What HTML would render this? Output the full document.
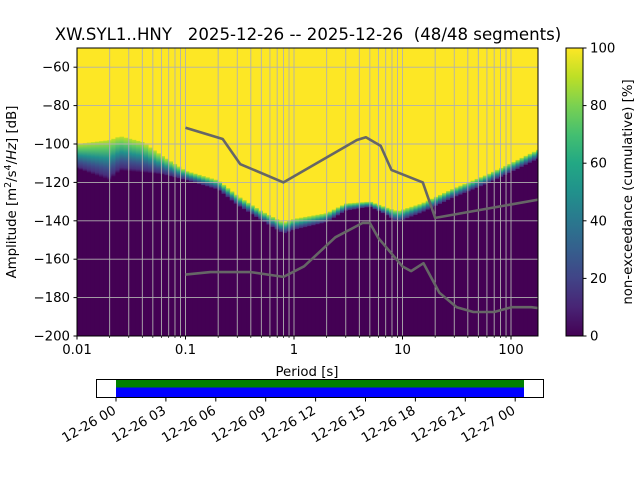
<!DOCTYPE html>
<html><head><meta charset="utf-8"><style>
body{margin:0;background:#fff;}
svg{display:block;font-family:"DejaVu Sans","Liberation Sans",sans-serif;}
</style></head><body>
<svg id="c" width="640" height="480" viewBox="0 0 640 480">
<defs>
<linearGradient id="vir" x1="0" y1="1" x2="0" y2="0">
<stop offset="0" stop-color="#440154"/><stop offset="0.1" stop-color="#482475"/><stop offset="0.2" stop-color="#414487"/><stop offset="0.3" stop-color="#355f8d"/><stop offset="0.4" stop-color="#2a788e"/><stop offset="0.5" stop-color="#21918c"/><stop offset="0.6" stop-color="#22a884"/><stop offset="0.7" stop-color="#44bf70"/><stop offset="0.8" stop-color="#7ad151"/><stop offset="0.9" stop-color="#bddf26"/><stop offset="1" stop-color="#fde725"/>
</linearGradient>
<linearGradient id="col" x1="0" y1="0" x2="0" y2="1">
<stop offset="0" stop-color="#bddf26"/><stop offset="0.2" stop-color="#5ec962"/><stop offset="0.45" stop-color="#21918c"/><stop offset="0.7" stop-color="#3b528b"/><stop offset="0.9" stop-color="#472d7b"/><stop offset="1" stop-color="#440154"/>
</linearGradient>
<clipPath id="pc"><rect x="77" y="48" width="461" height="288"/></clipPath>
</defs>
<text x="308" y="40" font-size="16.6" text-anchor="middle" xml:space="preserve">XW.SYL1..HNY   2025-12-26 -- 2025-12-26  (48/48 segments)</text>
<g id="plot" clip-path="url(#pc)"></g>
<g id="grid"></g>
<g id="curves" clip-path="url(#pc)"></g>
<rect x="77" y="48" width="461" height="288" fill="none" stroke="#000" stroke-width="1"/>
<g id="axes" font-size="13.3"></g>
<text x="307" y="376" font-size="13.3" text-anchor="middle">Period [s]</text>
<text transform="translate(16,192) rotate(-90)" font-size="13.3" text-anchor="middle">Amplitude [m<tspan font-size="9.5" dy="-5">2</tspan><tspan dy="5">/s</tspan><tspan font-size="9.5" dy="-5">4</tspan><tspan dy="5">/</tspan><tspan font-style="italic">Hz</tspan>] [dB]</text>
<rect x="566" y="48" width="17" height="288" fill="url(#vir)" stroke="#000" stroke-width="1"/>
<g id="cbar" font-size="13.3"></g>
<text transform="translate(632,192) rotate(-90)" font-size="13.3" text-anchor="middle">non-exceedance (cumulative) [%]</text>
<g id="tbar"></g>
</svg>
<script>
const NS="http://www.w3.org/2000/svg";
// PPSD transition edges
const periods=[0.01,0.02,0.025,0.04,0.06,0.1,0.2,0.3,0.5,0.8,1,2,3,5,7,9,15,30,60,100,177];
const yellowEdgeDb=[-100,-98,-96,-99,-106,-114,-119,-127,-135,-141,-139,-136,-131,-130,-133,-135,-131,-123,-116,-110,-103];
const purpleEdgeDb=[-113,-119,-114,-115,-116,-119,-124,-132,-140,-147,-145,-141,-135,-133,-137,-141,-136,-128,-121,-115,-108];
const nhnmPeriods=[0.1,0.22,0.32,0.8,3.8,4.6,6.3,7.9,15.4,20,354.8];
const nhnmDb=[-91.5,-97.4,-110.5,-120,-97.9,-96.5,-101,-113.5,-120,-138.5,-126];
const nlnmPeriods=[0.1,0.17,0.4,0.8,1.24,2.4,4.3,5,6,10,12,15.6,21.9,31.6,45,70,101,154,328];
const nlnmDb=[-168,-166.7,-166.7,-169.2,-163.7,-148.6,-141.1,-141.1,-149,-163.8,-166.2,-162.1,-177.5,-185,-187.5,-187.5,-185,-185,-187.5];
const yTicks=[-60,-80,-100,-120,-140,-160,-180,-200];
const xTickLabels=["0.01","0.1","1","10","100"];
const cbTicks=[0,20,40,60,80,100];
const timeLabels=["12-26 00","12-26 03","12-26 06","12-26 09","12-26 12","12-26 15","12-26 18","12-26 21","12-27 00"];
const X0=77,DEC=108.5,Y0=336,DBPX=1.92;
const xs=p=>X0+DEC*(Math.log10(p)+2);
const ys=d=>Y0-(d+200)*DBPX;
function interp(p,P,V){const l=Math.log10(p);for(let i=0;i<P.length-1;i++){const a=Math.log10(P[i]),b=Math.log10(P[i+1]);if(l>=a&&l<=b){return V[i]+(V[i+1]-V[i])*(l-a)/(b-a);}}return l<Math.log10(P[0])?V[0]:V[V.length-1];}
function mk(tag,attrs,parent){const e=document.createElementNS(NS,tag);for(const k in attrs)e.setAttribute(k,attrs[k]);parent.appendChild(e);return e;}
const plot=document.getElementById('plot');
mk('rect',{x:77,y:48,width:461,height:288,fill:'#fde725'},plot);
for(let lp=Math.log2(0.0095);lp<Math.log2(200);lp+=0.125){
 const p0=Math.pow(2,lp),p1=Math.pow(2,lp+0.125),pc=Math.pow(2,lp+0.0625);
 const yu=ys(interp(pc,periods,yellowEdgeDb)),yl=ys(interp(pc,periods,purpleEdgeDb));
 const x=xs(p0),w=xs(p1)-x+0.5;
 const g=mk('rect',{x:x,y:yu,width:w,height:Math.max(1,yl-yu),fill:'url(#col)'},plot);
 
 
 const r=mk('rect',{x:x,y:yl-0.5,width:w,height:Math.max(0,336.5-yl),fill:'#440154'},plot);
 
 
}
const grid=document.getElementById('grid');
for(let e=-2;e<=2;e++)for(let m=1;m<=9;m++){const p=m*Math.pow(10,e);const x=xs(p);if(x<77||x>538)continue;
 const l=mk('line',{x1:x,x2:x,y1:48,y2:336,stroke:'#b0b0b0','stroke-width':0.9},grid);
 
 }
yTicks.forEach(d=>{const l=mk('line',{x1:77,x2:538,y1:ys(d),y2:ys(d),stroke:'#b0b0b0','stroke-width':0.9},grid);
 
 });
const curves=document.getElementById('curves');
function pl(P,V,name){const pts=P.map((p,i)=>xs(p).toFixed(1)+','+ys(V[i]).toFixed(1)).join(' ');
 const e=mk('polyline',{points:pts,fill:'none',stroke:'#666','stroke-width':2.6,'stroke-linejoin':'round'},curves);
 
 }
pl(nhnmPeriods,nhnmDb,'nhnm-curve');pl(nlnmPeriods,nlnmDb,'nlnm-curve');
const axes=document.getElementById('axes');
yTicks.forEach(d=>{const y=ys(d);mk('line',{x1:73.5,x2:77,y1:y,y2:y,stroke:'#000'},axes);
 const t=mk('text',{x:70,y:y+4.5,'text-anchor':'end'},axes);t.textContent=String(d).replace('-','\u2212');
 
 });
xTickLabels.forEach(s=>{const x=xs(parseFloat(s));mk('line',{x1:x,x2:x,y1:336,y2:339.5,stroke:'#000'},axes);
 const t=mk('text',{x:x,y:354,'text-anchor':'middle'},axes);t.textContent=s;
 
 });
for(let e=-2;e<=2;e++)for(let m=2;m<=9;m++){const x=xs(m*Math.pow(10,e));if(x>538)continue;mk('line',{x1:x,x2:x,y1:336,y2:338,stroke:'#000','stroke-width':0.7},axes);}
const cb=document.getElementById('cbar');
cbTicks.forEach(v=>{const y=336-v*2.88;mk('line',{x1:583,x2:586.5,y1:y,y2:y,stroke:'#000'},cb);
 const t=mk('text',{x:590,y:y+4.5},cb);t.textContent=v;
 
 });
const tb=document.getElementById('tbar');
mk('rect',{x:96.5,y:379.5,width:447,height:18,fill:'#fff',stroke:'#000'},tb);
const gb=mk('rect',{x:116,y:380,width:408,height:7.5,fill:'#008000'},tb);


const bb=mk('rect',{x:116,y:387.5,width:408,height:9.5,fill:'#0000ff'},tb);


timeLabels.forEach((s,i)=>{const x=116+i*49.9;mk('line',{x1:x,x2:x,y1:398,y2:401.5,stroke:'#000'},tb);
 const t=mk('text',{x:x+1,y:413,'font-size':13.3,'text-anchor':'end',transform:`rotate(-30 ${x+1} 413)`},tb);t.textContent=s;
 
 });
</script>
</body></html>
